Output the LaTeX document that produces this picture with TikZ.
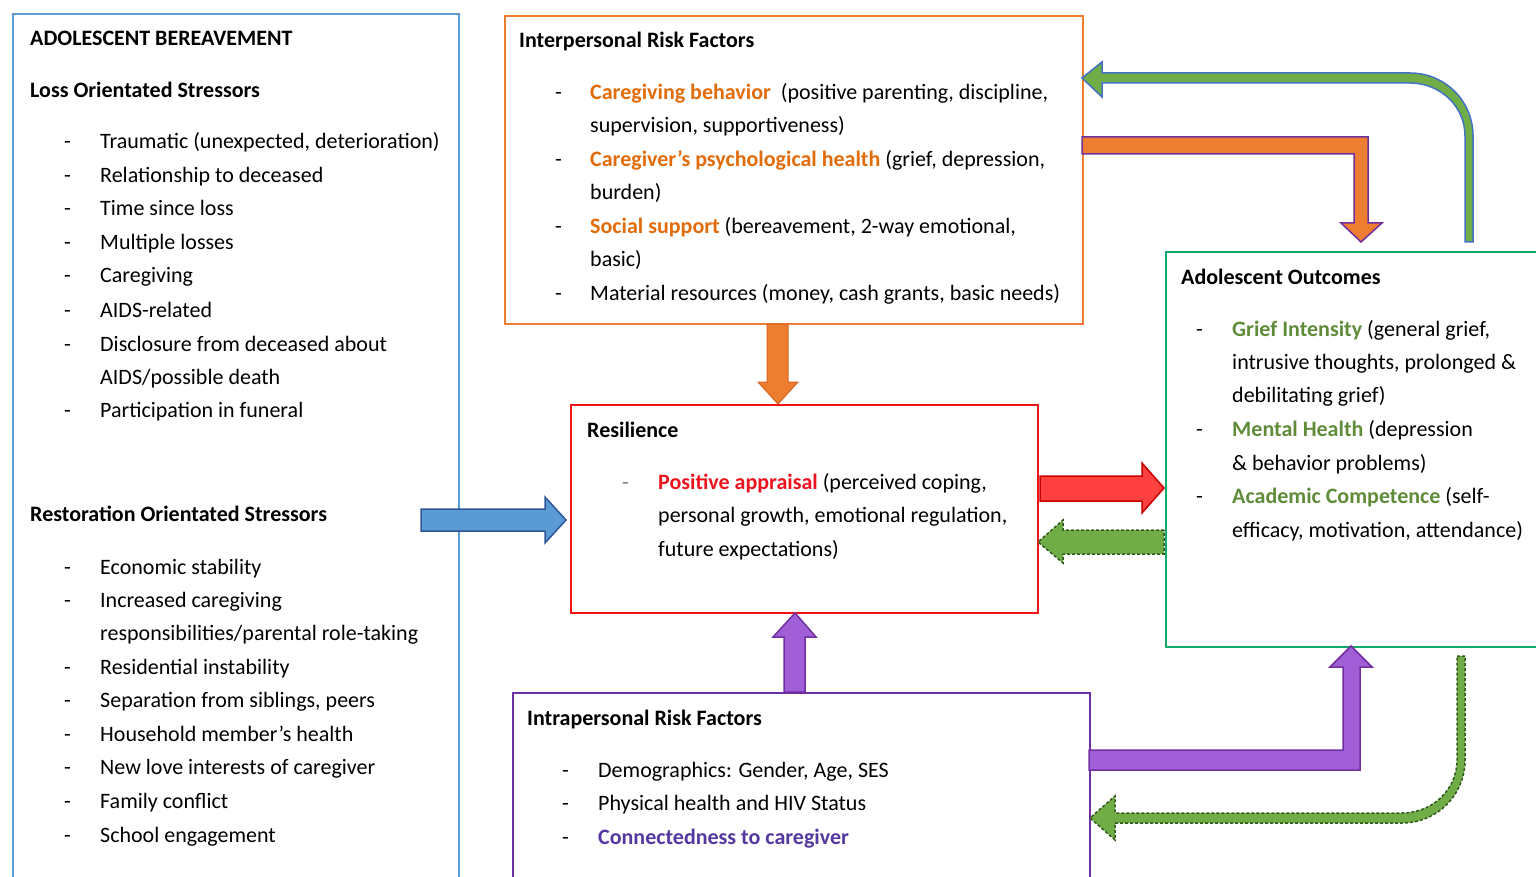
\documentclass[tikz,border=0pt]{standalone}
\usepackage{fontspec}
\setmainfont{Carlito}
\definecolor{bxBlue}{RGB}{91,155,213}
\definecolor{bxOrange}{RGB}{237,125,49}
\definecolor{bxRed}{RGB}{240,20,20}
\definecolor{bxGreen}{RGB}{20,170,110}
\definecolor{bxPurple}{RGB}{112,48,160}
\definecolor{tOrange}{RGB}{226,107,10}
\definecolor{tRed}{RGB}{235,20,30}
\definecolor{tGreen}{RGB}{96,140,58}
\definecolor{tPurple}{RGB}{84,56,160}
\definecolor{aBlueF}{RGB}{91,155,213}
\definecolor{aBlueD}{RGB}{47,85,151}
\definecolor{aOrange}{RGB}{237,125,49}
\definecolor{aOrangeD}{RGB}{214,100,30}
\definecolor{aPurpleF}{RGB}{160,95,215}
\definecolor{aRedF}{RGB}{255,64,64}
\definecolor{aRedD}{RGB}{200,0,0}
\definecolor{aGreenF}{RGB}{112,173,71}
\definecolor{aGreenD}{RGB}{50,90,30}
\definecolor{aBlueLine}{RGB}{68,114,196}
\begin{document}
\begin{tikzpicture}[x=1pt,y=-1pt,
  txt/.style={anchor=base west, inner sep=0pt, font=\fontsize{22}{26}\selectfont},
  hd/.style={anchor=base west, inner sep=0pt, font=\fontsize{22}{26}\selectfont\bfseries},
  box/.style={anchor=north west, inner sep=0pt, line width=2pt, fill=none},
  blk/.style={line width=1.5pt, line join=miter}]
\useasboundingbox (0,0) rectangle (1536,877);
\clip (0,0) rectangle (1536,877);

% ---------------- boxes
\node[box, draw=bxBlue, line width=1.6pt, minimum width=446pt, minimum height=900pt] (bereave) at (12,13) {};
\node[box, draw=bxOrange, minimum width=578pt, minimum height=308pt] (inter) at (504,15) {};
\node[box, draw=bxRed, minimum width=467pt, minimum height=208pt] (resil) at (570,404) {};
\node[box, draw=bxGreen, minimum width=390pt, minimum height=395pt] (outc) at (1165,251) {};
\node[box, draw=bxPurple, minimum width=577pt, minimum height=220pt] (intra) at (512,692) {};

% ---------------- left box text
\node[hd] (h1) at (30,46) {ADOLESCENT BEREAVEMENT};
\node[hd] (h2) at (30,98) {Loss Orientated Stressors};
\foreach \yy/\tt [count=\i] in {149/Traumatic (unexpected{,} deterioration),183/Relationship to deceased,216/Time since loss,250/Multiple losses,283/Caregiving,317/AIDS-related,351/Disclosure from deceased about,417/Participation in funeral}{
  \node[txt] (ld\i) at (64,\yy) {-};
  \node[txt] (lt\i) at (100,\yy) {\tt};
}
\node[txt] (ltc) at (100,384) {AIDS/possible death};
\node[hd] (h3) at (30,521) {Restoration Orientated Stressors};
\foreach \yy/\tt [count=\i] in {574/Economic stability,607/Increased caregiving,674/Residential instability,707/Separation from siblings{,} peers,741/Household member’s health,774/New love interests of caregiver,808/Family conflict,842/School engagement}{
  \node[txt] (rd\i) at (64,\yy) {-};
  \node[txt] (rt\i) at (100,\yy) {\tt};
}
\node[txt] (rtc) at (100,640) {responsibilities/parental role-taking};

% ---------------- interpersonal
\node[hd] (ih) at (519,48) {Interpersonal Risk Factors};
\node[txt] (id1) at (555,100) {-};
\node[txt] (it1) at (590,100) {\textbf{\color{tOrange}Caregiving behavior}\ \ (positive parenting, discipline,};
\node[txt] (it1b) at (590,133) {supervision, supportiveness)};
\node[txt] (id2) at (555,167) {-};
\node[txt] (it2) at (590,167) {\textbf{\color{tOrange}Caregiver’s psychological health} (grief, depression,};
\node[txt] (it2b) at (590,200) {burden)};
\node[txt] (id3) at (555,234) {-};
\node[txt] (it3) at (590,234) {\textbf{\color{tOrange}Social support} (bereavement, 2-way emotional,};
\node[txt] (it3b) at (590,267) {basic)};
\node[txt] (id4) at (555,301) {-};
\node[txt] (it4) at (590,301) {Material resources (money, cash grants, basic needs)};

% ---------------- resilience
\node[hd] (rh) at (587,437) {Resilience};
\node[txt, text=gray] (rsd) at (622,489) {-};
\node[txt] (rs1) at (658,489) {\textbf{\color{tRed}Positive appraisal} (perceived coping,};
\node[txt] (rs2) at (658,522) {personal growth, emotional regulation,};
\node[txt] (rs3) at (658,556) {future expectations)};

% ---------------- outcomes
\node[hd] (oh) at (1181,284) {Adolescent Outcomes};
\node[txt] (od1) at (1196,336) {-};
\node[txt] (ot1) at (1232,336) {\textbf{\color{tGreen}Grief Intensity} (general grief,};
\node[txt] (ot1b) at (1232,369) {intrusive thoughts, prolonged \&};
\node[txt] (ot1c) at (1232,402) {debilitating grief)};
\node[txt] (od2) at (1196,436) {-};
\node[txt] (ot2) at (1232,436) {\textbf{\color{tGreen}Mental Health} (depression};
\node[txt] (ot2b) at (1232,470) {\& behavior problems)};
\node[txt] (od3) at (1196,503) {-};
\node[txt] (ot3) at (1232,503) {\textbf{\color{tGreen}Academic Competence} (self-};
\node[txt] (ot3b) at (1232,537) {efficacy, motivation, attendance)};

% ---------------- intrapersonal
\node[hd] (pah) at (527,725) {Intrapersonal Risk Factors};
\node[txt] (pad1) at (562,777) {-};
\node[txt] (pat1) at (598,777) {Demographics: Gender, Age, SES};
\node[txt] (pad2) at (562,810) {-};
\node[txt] (pat2) at (598,810) {Physical health and HIV Status};
\node[txt] (pad3) at (562,844) {-};
\node[txt] (pat3) at (598,844) {\textbf{\color{tPurple}Connectedness to caregiver}};

% ---------------- block arrows
% bereavement -> resilience (blue)
\draw[blk, fill=aBlueF, draw=aBlueD] (421,509) -- (545,509) -- (545,497) -- (566,520) -- (545,543) -- (545,531) -- (421,531) -- cycle;
% interpersonal -> resilience (orange, down)
\draw[blk, line width=1pt, fill=aOrange, draw=aOrangeD] (767,324) -- (788,324) -- (788,382) -- (798,382) -- (778,404) -- (758,382) -- (767,382) -- cycle;
% intrapersonal -> resilience (purple, up)
\draw[blk, fill=aPurpleF, draw=bxPurple] (784,692) -- (784,637) -- (773,637) -- (795,613) -- (816,637) -- (805,637) -- (805,692) -- cycle;
% resilience -> outcomes (red)
\draw[blk, fill=aRedF, draw=aRedD] (1040,476) -- (1142,476) -- (1142,463) -- (1164,488) -- (1142,513) -- (1142,501) -- (1040,501) -- cycle;
% outcomes -> resilience (green dashed)
\draw[blk, densely dashed, fill=aGreenF, draw=aGreenD] (1164,530) -- (1063,530) -- (1063,520) -- (1038,542) -- (1063,563) -- (1063,554) -- (1164,554) -- cycle;
% interpersonal -> outcomes (orange, purple outline)
\draw[blk, fill=aOrange, draw=bxPurple] (1082,137) -- (1368,137) -- (1368,223) -- (1382,223) -- (1361,242) -- (1341,223) -- (1354,223) -- (1354,154) -- (1082,154) -- cycle;
% outcomes -> interpersonal (green, blue outline, curved)
\draw[blk, fill=aGreenF, draw=aBlueLine] (1102,73) -- (1410,73) .. controls (1445,73) and (1473,101) .. (1473,136) -- (1473,242) -- (1465,242) -- (1465,136) .. controls (1465,106) and (1440,83) .. (1410,83) -- (1102,83) -- (1102,97) -- (1082,78) -- (1102,62) -- cycle;
% intrapersonal -> outcomes (purple bent)
\draw[blk, fill=aPurpleF, draw=bxPurple] (1089,750) -- (1343,750) -- (1343,667) -- (1330,667) -- (1351,646) -- (1372,667) -- (1360,667) -- (1360,770) -- (1089,770) -- cycle;
% outcomes -> intrapersonal (green dashed curved)
\draw[blk, densely dashed, fill=aGreenF, draw=aGreenD] (1457,656) -- (1465,656) -- (1465,760) .. controls (1465,795) and (1437,823) .. (1402,823) -- (1115,823) -- (1115,840) -- (1090,818) -- (1115,796) -- (1115,813) -- (1402,813) .. controls (1432,813) and (1457,790) .. (1457,760) -- cycle;
\end{tikzpicture}
\end{document}
